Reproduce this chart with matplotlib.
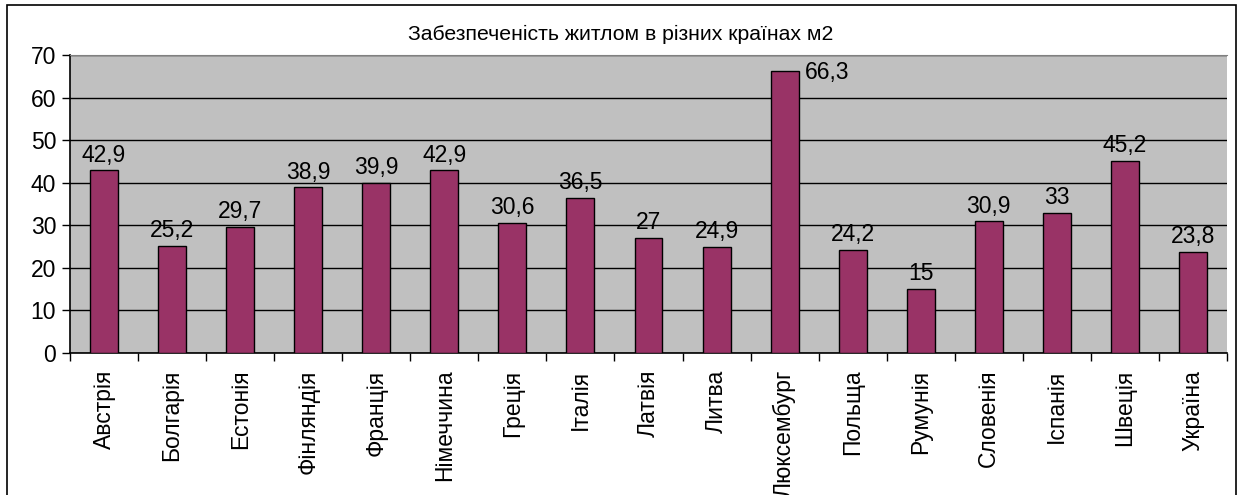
import matplotlib
matplotlib.use("Agg")
import matplotlib.pyplot as plt
from matplotlib.patches import Rectangle
import numpy as np

countries = ["Австрія", "Болгарія", "Естонія", "Фінляндія", "Франція", "Німеччина",
             "Греція", "Італія", "Латвія", "Литва", "Люксембург", "Польща",
             "Румунія", "Словенія", "Іспанія", "Швеція", "Україна"]
values = [42.9, 25.2, 29.7, 38.9, 39.9, 42.9, 30.6, 36.5, 27, 24.9, 66.3,
          24.2, 15, 30.9, 33, 45.2, 23.8]
labels = ["42,9", "25,2", "29,7", "38,9", "39,9", "42,9", "30,6", "36,5", "27",
          "24,9", "66,3", "24,2", "15", "30,9", "33", "45,2", "23,8"]
title = "Забезпеченість житлом в різних країнах м2"

plt.rcParams["font.family"] = ["Liberation Sans", "DejaVu Sans"]

W, H = 1240, 495
fig = plt.figure(figsize=(W / 100, H / 100), dpi=100)
fig.patch.set_facecolor("white")

# chart frame
fig.patches.append(Rectangle((7 / W, -0.05), (1236 - 7) / W, 1.05 - 5 / H,
                             transform=fig.transFigure, fill=False,
                             edgecolor="black", linewidth=1.2))

left, right, top, bottom = 70, 1227, 55, 353
ax = fig.add_axes([left / W, 1 - bottom / H, (right - left) / W, (bottom - top) / H])
ax.set_facecolor("#C0C0C0")

x = np.arange(len(countries))
ax.bar(x, values, width=0.41, color="#993366", edgecolor="black", linewidth=1.0, zorder=3)

for xi, v, lab in zip(x, values, labels):
    if v > 62:
        ax.text(xi + 0.3, v - 0.5, lab, ha="left", va="center", fontsize=16.5, zorder=4)
    else:
        ax.text(xi, v + 0.9, lab, ha="center", va="bottom", fontsize=16.5, zorder=4)

ax.set_xlim(-0.5, len(countries) - 0.5)
ax.set_ylim(0, 70)
ax.set_yticks(range(0, 71, 10))
ax.yaxis.grid(True, color="black", linewidth=1.0, zorder=1)
ax.set_axisbelow(True)

ax.set_xticks(x)
ax.set_xticklabels(countries, rotation=90, fontsize=16.5)
ax.set_xticks(np.arange(-0.5, len(countries), 1), minor=True)
ax.tick_params(axis="x", which="major", length=0, pad=12)
ax.tick_params(axis="x", which="minor", length=6, width=1, direction="out")
ax.tick_params(axis="y", length=6, width=1, labelsize=16.5, pad=4)

ax.spines["top"].set_color("#808080")
ax.spines["right"].set_visible(False)
ax.spines["left"].set_linewidth(1.2)
ax.spines["bottom"].set_linewidth(1.2)

fig.text(621 / W, 1 - 34 / H, title, ha="center", va="center", fontsize=15.3)

fig.savefig("out.png", dpi=100)
